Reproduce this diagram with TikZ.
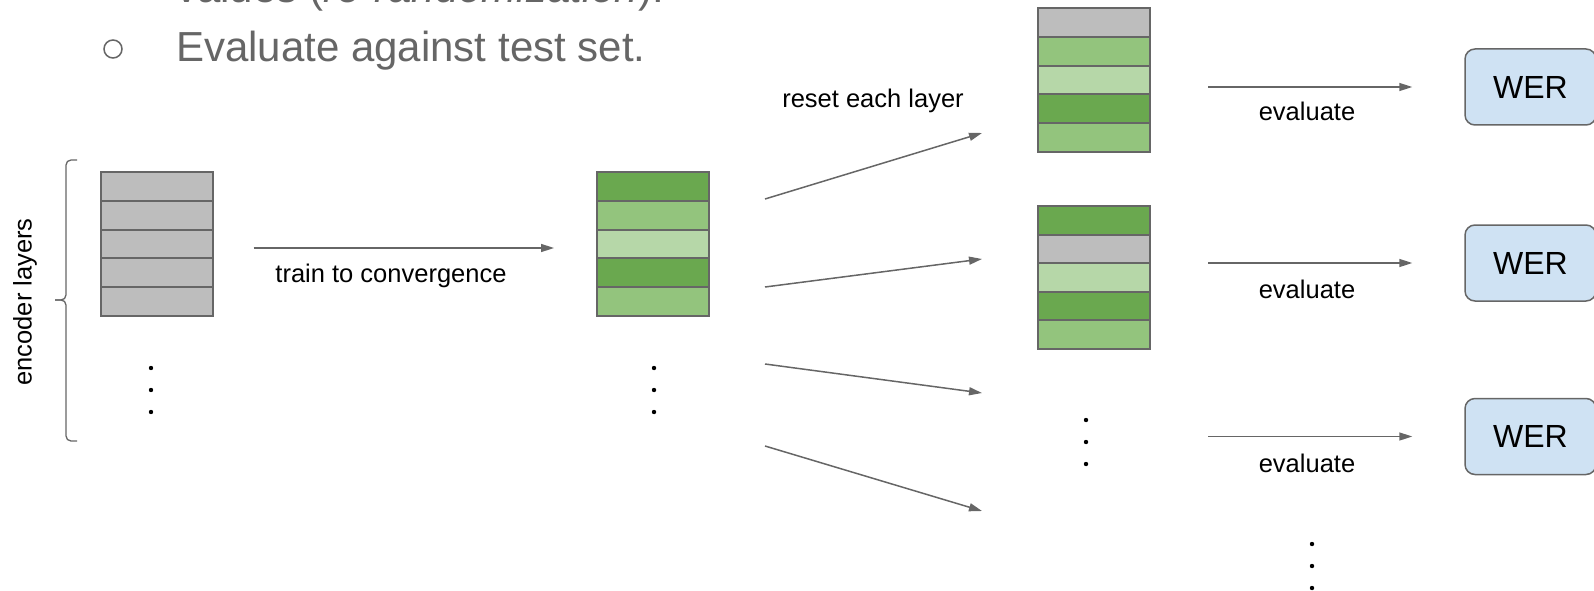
\documentclass[tikz,border=0pt]{standalone}
\usepackage{fontspec}
\setmainfont{Liberation Sans}
\usetikzlibrary{arrows.meta, positioning}
\definecolor{layergray}{HTML}{BDBDBD}
\definecolor{darkgreen}{HTML}{6AA84F}
\definecolor{midgreen}{HTML}{93C47D}
\definecolor{lightgreen}{HTML}{B6D7A8}
\definecolor{werblue}{HTML}{CFE2F3}
\definecolor{edgegray}{HTML}{666666}
\definecolor{slidegray}{HTML}{666666}

\tikzset{
  layer/.style={draw=edgegray, line width=2pt, minimum width=112pt, minimum height=28.8pt, inner sep=0pt},
  arr/.style={draw=edgegray, line width=1.5pt, -{Triangle[length=13pt,width=8pt]}},
  lbl/.style={font=\fontsize{25.5}{30}\selectfont, inner sep=0pt},
  wer/.style={draw=edgegray, fill=werblue, line width=1.5pt, rounded corners=10pt,
    minimum width=131pt, minimum height=76pt, inner sep=0pt, font=\fontsize{32}{38}\selectfont},
  slidetext/.style={anchor=base west, inner sep=0pt, text=slidegray, font=\fontsize{42}{50}\selectfont}
}

\begin{document}
\begin{tikzpicture}[x=1pt, y=-1pt]
  \useasboundingbox (0,0) rectangle (1594,591);
  \clip (0,0) rectangle (1594,591);

  % slide text above the figure
  \node[circle, draw=slidegray, line width=1.5pt, minimum size=18pt, inner sep=0pt] (bullet) at (113,49) {};
  \node[slidetext] (prevline) at (176,3) {values (\textit{re-randomization}).};
  \node[slidetext] (evalline) at (176,62) {Evaluate against test set.};

  % layer stacks
  \foreach \c [count=\i] in {layergray,layergray,layergray,layergray,layergray}
    \node[layer, fill=\c] (init-\i) at (156.5,{172+(\i-0.5)*28.8}) {};
  \foreach \c [count=\i] in {darkgreen,midgreen,lightgreen,darkgreen,midgreen}
    \node[layer, fill=\c] (trained-\i) at (653,{172+(\i-0.5)*28.8}) {};
  \foreach \c [count=\i] in {layergray,midgreen,lightgreen,darkgreen,midgreen}
    \node[layer, fill=\c] (resetA-\i) at (1094,{8+(\i-0.5)*28.8}) {};
  \foreach \c [count=\i] in {darkgreen,layergray,lightgreen,darkgreen,midgreen}
    \node[layer, fill=\c] (resetB-\i) at (1094,{206+(\i-0.5)*28.6}) {};

  % vertical dots
  \foreach \y in {368,390,412} {
    \fill (151,\y) circle (2.2);
    \fill (654,\y) circle (2.2);
  }
  \foreach \y in {420,442,464} \fill (1086,\y) circle (2.2);
  \foreach \y in {544,566,588} \fill (1312,\y) circle (2.2);

  % brace
  \coordinate (braceTop) at (77,160);
  \coordinate (braceBot) at (77,441);
  \coordinate (braceTip) at (55,300);
  \draw[edgegray, line width=1.3pt, rounded corners=5pt] (braceTop) -- (66,160) -- (66,300) -- (braceTip);
  \draw[edgegray, line width=1.3pt, rounded corners=5pt] (braceBot) -- (66,441) -- (66,300) -- (braceTip);
  \node[lbl, rotate=90] (enclbl) at (25,302) {encoder layers};

  % training
  \draw[arr, shorten <=40pt, shorten >=42pt] ([yshift=-4pt]init-3.east) -- ([yshift=-4pt]trained-3.west);
  \node[lbl, anchor=base] (trainlbl) at (391,282) {train to convergence};

  % reset fan
  \coordinate (fanout1) at (765,199);
  \coordinate (fanout2) at (765,287);
  \coordinate (fanout3) at (765,364);
  \coordinate (fanout4) at (765,446);
  \coordinate (fanin1) at (982,133);
  \coordinate (fanin2) at (982,259);
  \coordinate (fanin3) at (982,393);
  \coordinate (fanin4) at (982,511);
  \foreach \i in {1,...,4}
    \draw[arr] (fanout\i) -- (fanin\i);
  \node[lbl, anchor=base] (resetlbl) at (873,108) {reset each layer};

  % evaluation
  \node[wer] (wer1) at (1530.5,87) {WER};
  \node[wer] (wer2) at (1530.5,263) {WER};
  \node[wer] (wer3) at (1530.5,436.5) {WER};
  \coordinate (evalout1) at (1208,87);
  \coordinate (evalout2) at (1208,263);
  \coordinate (evalout3) at (1208,436.5);
  \foreach \i/\b in {1/121,2/298,3/472} {
    \draw[arr, shorten >=52pt] (evalout\i) -- (wer\i.west);
    \node[lbl, anchor=base] (evallbl\i) at (1307,\b) {evaluate};
  }
\end{tikzpicture}
\end{document}
